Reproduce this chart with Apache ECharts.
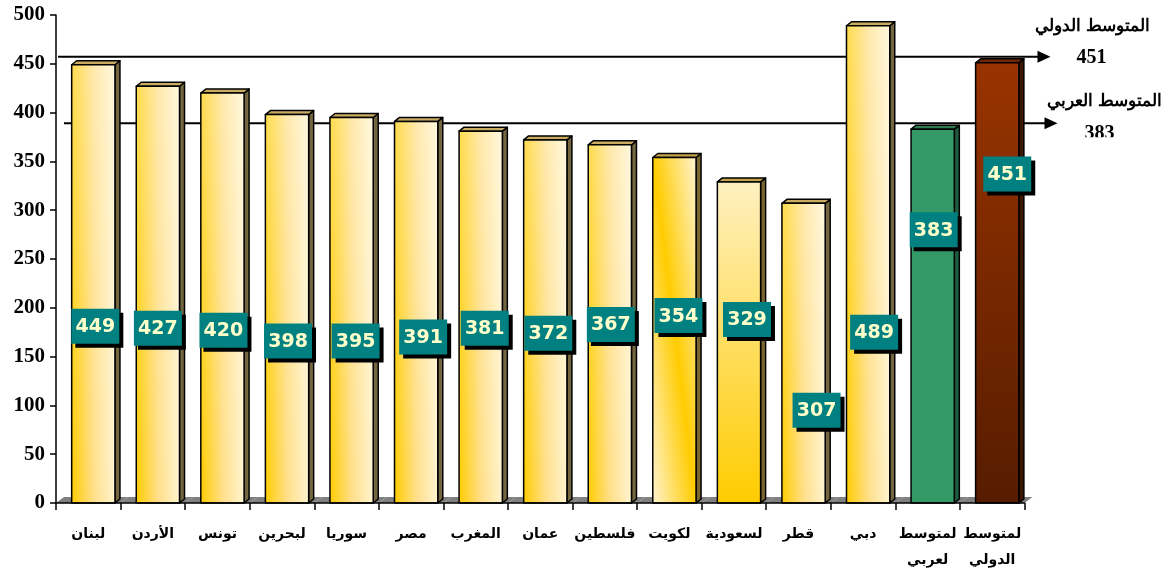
<!DOCTYPE html>
<html>
<head>
<meta charset="utf-8">
<script src="https://cdn.jsdelivr.net/npm/echarts@6/dist/echarts.min.js"></script>
<style>
  html, body { margin: 0; padding: 0; background: #fff; }
  #chart { width: 1173px; height: 573px; }
</style>
</head>
<body>
<div id="chart"></div>
<script>
// categories and values
const countries = ['لبنان', 'الأردن', 'تونس', 'لبحرين', 'سوريا', 'مصر', 'المغرب', 'عمان', 'فلسطين', 'لكويت', 'لسعودية', 'قطر', 'دبي', 'لمتوسط\nلعربي', 'لمتوسط\nالدولي'];
const scores = [449, 427, 420, 398, 395, 391, 381, 372, 367, 354, 329, 307, 489, 383, 451];

// reference lines with their captions
const avgNames = ['المتوسط الدولي', 'المتوسط العربي'];
const avgValues = [451, 383];

// where each value box sits (centre, in axis units) and its sideways nudge in px
const labelAt = [181, 179, 177, 166, 166, 170, 179, 174, 183, 192, 188, 95, 175, 280, 337];
const labelDx = [2, 0, 1, 1, 4, 7, 4, 3, 1, 4, 8, 13, 6, 1, 10];

const chart = echarts.init(document.getElementById('chart'));

const DEPTH = { x: 5, y: 4 };       // bar depth
const FLOOR = { x: 8, y: 6 };       // floor depth
const LG = echarts.graphic.LinearGradient;

function barGeom(api, idx, val) {
  const base = api.coord([idx, 0]);
  const top = api.coord([idx, val]);
  const band = api.size([1, 0])[0];
  const w = band * 0.67;
  const cx = base[0] + band * 0.078;
  return { left: cx - w / 2, w: w, cx: cx, yTop: top[1], yBot: base[1] };
}

function frontFill(idx, g) {
  const h = g.yBot - g.yTop;
  if (idx === 13) return { fill: '#339966', side: '#1F5C3D', top: '#2E7D52' };
  if (idx === 14) {
    return {
      fill: new LG(0, 0, 0, 1, [{ offset: 0, color: '#993300' }, { offset: 1, color: '#561C00' }]),
      side: '#3D1600', top: '#6E2600'
    };
  }
  if (idx === 9) {
    // gold band running from top-left to bottom-right
    const L = Math.sqrt(h * h + g.w * g.w);
    const nx = h / L, ny = -g.w / L, k = g.w * h / L;
    const mx = g.left + g.w / 2, my = g.yTop + h / 2;
    return {
      fill: new LG(mx - nx * k, my - ny * k, mx + nx * k, my + ny * k, [
        { offset: 0, color: '#FFF3CF' }, { offset: 0.5, color: '#FFCC00' }, { offset: 1, color: '#FFF3CF' }
      ], true),
      side: '#7A6630', top: '#C4A24A'
    };
  }
  if (idx === 10) {
    return {
      fill: new LG(0, 0, 0, 1, [{ offset: 0, color: '#FFF0C0' }, { offset: 1, color: '#FFCC00' }]),
      side: '#7A6630', top: '#C4A24A'
    };
  }
  return {
    fill: new LG(0, 0, 1, 0, [
      { offset: 0, color: '#FFCC00' }, { offset: 0.5, color: '#FFDF88' }, { offset: 1, color: '#FFF4D0' }
    ]),
    overlay: true,
    side: '#74663F', top: '#C9AC62'
  };
}

const lineStyle = { stroke: '#000', lineWidth: 1.5, lineJoin: 'round' };

function renderFloor(params, api) {
  const idx = api.value(0);
  const base = api.coord([idx, 0]);
  const band = api.size([1, 0])[0];
  const xL = base[0] - band / 2, xR = base[0] + band / 2, y0 = base[1];
  return {
    type: 'polygon',
    shape: { points: [[xL, y0], [xR, y0], [xR + FLOOR.x, y0 - FLOOR.y], [xL + FLOOR.x, y0 - FLOOR.y]] },
    style: { fill: '#808080' }
  };
}

function renderBar(params, api) {
  const idx = api.value(0);
  const val = api.value(1);
  const g = barGeom(api, idx, val);
  const c = frontFill(idx, g);
  const r = g.left + g.w;
  const children = [
    {
      type: 'polygon',
      shape: { points: [[r, g.yBot], [r + DEPTH.x, g.yBot - DEPTH.y], [r + DEPTH.x, g.yTop - DEPTH.y], [r, g.yTop]] },
      style: Object.assign({ fill: c.side }, lineStyle)
    },
    {
      type: 'polygon',
      shape: { points: [[g.left, g.yTop], [g.left + DEPTH.x, g.yTop - DEPTH.y], [r + DEPTH.x, g.yTop - DEPTH.y], [r, g.yTop]] },
      style: Object.assign({ fill: c.top }, lineStyle)
    },
    {
      type: 'rect',
      shape: { x: g.left, y: g.yTop, width: g.w, height: g.yBot - g.yTop },
      style: { fill: c.fill }
    }
  ];
  if (c.overlay) {
    children.push({
      type: 'rect',
      shape: { x: g.left, y: g.yTop, width: g.w, height: g.yBot - g.yTop },
      style: {
        fill: new LG(0, 0, 0, 1, [
          { offset: 0, color: 'rgba(255,255,255,0.3)' }, { offset: 1, color: 'rgba(255,255,255,0)' }
        ])
      }
    });
  }
  children.push({
    type: 'rect',
    shape: { x: g.left, y: g.yTop, width: g.w, height: g.yBot - g.yTop },
    style: Object.assign({ fill: 'none' }, lineStyle)
  });
  return { type: 'group', children: children };
}

function renderLabel(params, api) {
  const idx = api.value(0);
  const val = api.value(1);
  const g = barGeom(api, idx, val);
  const cx = g.cx + labelDx[idx];
  const cy = api.coord([idx, labelAt[idx]])[1];
  const bw = 48, bh = 35;
  return {
    type: 'group',
    children: [
      { type: 'rect', shape: { x: cx - bw / 2 + 4, y: cy - bh / 2 + 4, width: bw, height: bh }, style: { fill: '#000' } },
      { type: 'rect', shape: { x: cx - bw / 2, y: cy - bh / 2, width: bw, height: bh }, style: { fill: '#008080' } },
      {
        type: 'text',
        style: {
          text: String(val), x: cx, y: cy + 1, align: 'center', verticalAlign: 'middle',
          fill: '#FFFFCC', font: 'bold 19px "DejaVu Sans", Verdana, sans-serif'
        }
      }
    ]
  };
}

// tweaks for the two arrows and their captions (px from plot edges)
const avgStart = [2, 8];
const avgTip = [26, 33];
const avgNameX = [68, 80];
const avgNumX = [67, 75];
const avgNameUp = [30, 22];

function renderAvg(params, api) {
  const i = params.dataIndex;
  const val = api.value(1);
  const cs = params.coordSys;
  const y = api.coord([0, val])[1] - FLOOR.y;
  const right = cs.x + cs.width;
  const tip = right + avgTip[i];
  const children = [
    { type: 'line', shape: { x1: cs.x + avgStart[i], y1: y, x2: tip - 12, y2: y }, style: { stroke: '#000', lineWidth: 2 } },
    { type: 'polygon', shape: { points: [[tip - 13, y - 6], [tip, y], [tip - 13, y + 6]] }, style: { fill: '#000' } },
    {
      type: 'text',
      style: {
        text: avgNames[i], x: right + avgNameX[i], y: y - avgNameUp[i], align: 'center', verticalAlign: 'middle',
        fill: '#000', font: 'bold 17px "Liberation Serif", "DejaVu Serif", serif'
      }
    },
    {
      type: 'text',
      style: {
        text: String(val), x: right + avgNumX[i], y: y + (i === 0 ? 1 : 11), align: 'center', verticalAlign: 'middle',
        fill: '#000', font: 'bold 20px "Liberation Serif", serif'
      }
    }
  ];
  if (i === 1) {
    // the caption box in the original cuts this number off
    children.push({ type: 'rect', shape: { x: right + avgNumX[i] - 30, y: y + 14, width: 60, height: 20 }, style: { fill: '#fff' } });
  }
  return { type: 'group', children: children };
}

const barData = scores.map((v, i) => [i, v]);

const option = {
  animation: false,
  backgroundColor: '#fff',
  grid: { left: 56, right: 148.5, top: 15, bottom: 64 },
  xAxis: {
    type: 'category',
    data: countries,
    z: 5,
    axisLine: { lineStyle: { color: '#000', width: 1.5 } },
    axisTick: { show: true, interval: 0, length: 7, lineStyle: { color: '#000', width: 1.5 } },
    axisLabel: {
      interval: 0, margin: 18, color: '#000', fontSize: 14, fontWeight: 'bold', lineHeight: 26,
      fontFamily: '"Liberation Sans", "DejaVu Sans", Arial, sans-serif'
    }
  },
  yAxis: {
    type: 'value',
    min: 0, max: 500, interval: 50,
    z: 5,
    axisLine: { show: true, lineStyle: { color: '#000', width: 1.5 } },
    axisTick: { show: true, length: 6, lineStyle: { color: '#000', width: 1.5 } },
    splitLine: { show: false },
    axisLabel: {
      margin: 11, color: '#000', fontSize: 21, fontWeight: 'bold',
      fontFamily: '"Liberation Serif", "Times New Roman", serif'
    }
  },
  series: [
    { type: 'custom', z: 1, clip: false, renderItem: renderFloor, data: barData, encode: { x: 0, y: 1 } },
    { type: 'custom', z: 2, clip: false, renderItem: renderAvg, data: avgValues.map(v => [0, v]), encode: { x: 0, y: 1 } },
    { type: 'custom', z: 3, clip: false, renderItem: renderBar, data: barData, encode: { x: 0, y: 1 } },
    { type: 'custom', z: 4, clip: false, renderItem: renderLabel, data: barData, encode: { x: 0, y: 1 } }
  ]
};

chart.setOption(option);
</script>
</body>
</html>
